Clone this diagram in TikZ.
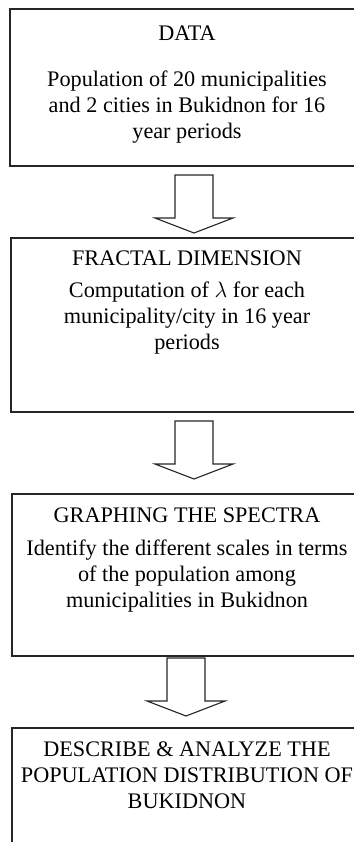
\documentclass[tikz,border=0pt]{standalone}
\usepackage{fontspec}
\setmainfont{Liberation Serif}
\usetikzlibrary{fit}
\tikzstyle{flowbox}    = [draw=black!85, line width=0.7pt, inner sep=0pt]
\tikzstyle{boxtext}    = [align=center, inner sep=0pt, font={\fontsize{12}{14}\selectfont}]
\tikzstyle{blockarrow} = [draw=black!85, line width=0.6pt, fill=white, line join=miter]

\begin{document}
\begin{tikzpicture}[x=0.54pt, y=0.54pt]
        \useasboundingbox (0,0) rectangle (354,-842);
        \clip (0,0) rectangle (354,-842);

        % Rámečky kroků
        \node[flowbox, fit={(10,-9) (364,-166)}] (data) {};
        \node[flowbox, fit={(11,-238) (364,-412)}] (fractal) {};
        \node[flowbox, fit={(12,-494) (364,-656)}] (spectra) {};
        \node[flowbox, fit={(12,-728) (364,-870)}] (analyze) {};

        % Texty
        \node[boxtext] (datahead) at (187,-33) {DATA};
        \node[boxtext] (databody) at (187,-107)
            {Population of 20 municipalities\\
            and 2 cities in Bukidnon for 16\\
            year periods};

        \node[boxtext] (fractalhead) at (187,-258) {FRACTAL DIMENSION};
        \node[boxtext] (fractalbody) at (187,-318)
            {Computation of \(\lambda\) for each\\
            municipality/city in 16 year\\
            periods};

        \node[boxtext] (spectrahead) at (187,-515) {GRAPHING THE SPECTRA};
        \node[boxtext] (spectrabody) at (187,-576)
            {Identify the different scales in terms\\
            of the population among\\
            municipalities in Bukidnon};

        \node[boxtext] (analyzetext) at (187,-775)
            {DESCRIBE \& ANALYZE THE\\
            POPULATION DISTRIBUTION OF\\
            BUKIDNON};

        % Šipky mezi kroky
        \foreach \ax/\ay [count=\i] in {194/-175, 194/-421, 186/-658} {
            \coordinate (arrow\i) at (\ax,\ay);
            \draw[blockarrow] (arrow\i) ++(-19,0) -- ++(38,0) -- ++(0,-43)
                -- ++(20,0) -- ++(-39,-15) -- ++(-39,15) -- ++(20,0) -- cycle;
        }

\end{tikzpicture}
\end{document}
